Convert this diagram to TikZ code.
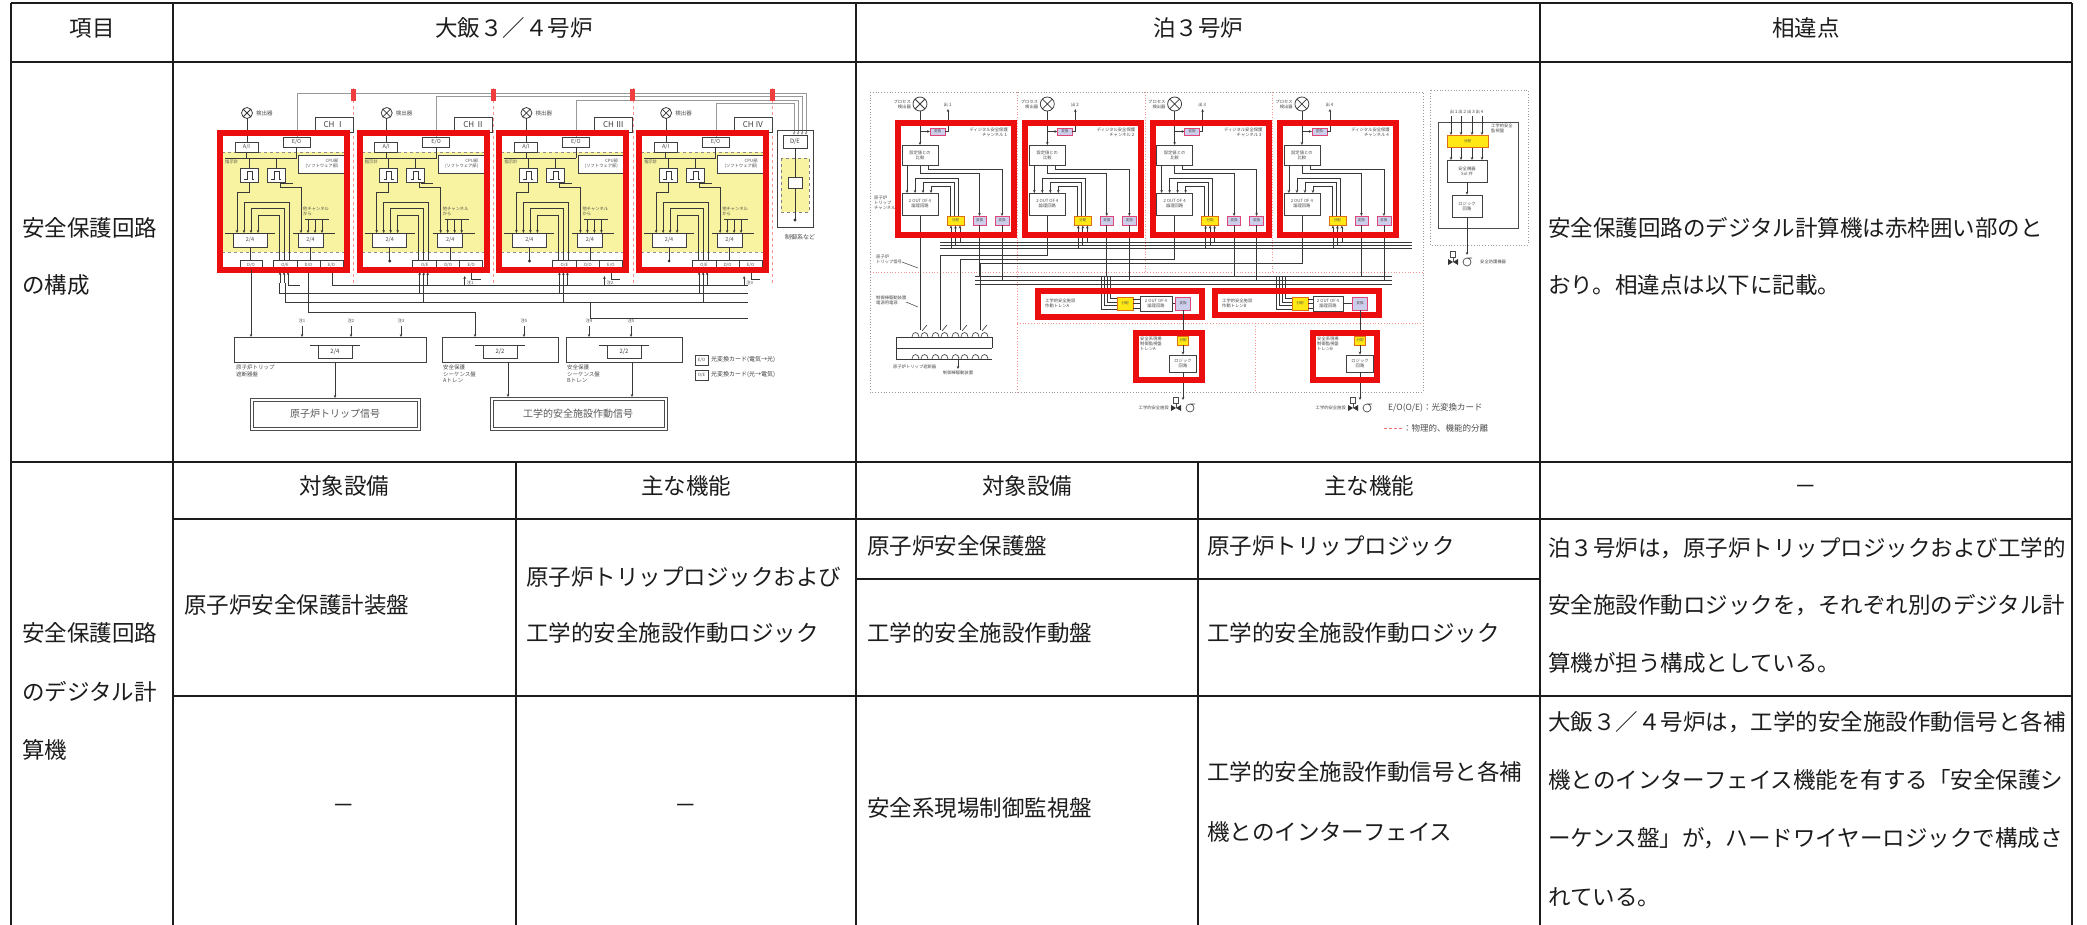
\documentclass[tikz,border=0pt]{standalone}
\usepackage{fontspec}
\setmainfont{Noto Sans CJK JP}
\usetikzlibrary{arrows.meta}
\definecolor{redc}{RGB}{236,14,14}
\definecolor{ohiy}{RGB}{247,243,160}
\definecolor{tyel}{RGB}{255,232,20}
\definecolor{tyelb}{RGB}{225,110,20}
\definecolor{tpink}{RGB}{205,205,236}
\definecolor{tpinkb}{RGB}{222,70,120}
\definecolor{ink}{RGB}{28,28,28}
\newcommand{\vlvpmp}[2]{%
  \fill[black!80] (#1-5,#2-3)--(#1+5,#2+3)--(#1+5,#2-3)--(#1-5,#2+3)--cycle;
  \draw[black!70,line width=0.6pt] (#1,#2)--(#1,#2-5) (#1-2.5,#2-11) rectangle (#1+2.5,#2-5);
  \draw[black!70,line width=0.7pt] (#1+14,#2) circle[radius=4pt] (#1+14,#2-4)--(#1+19,#2-4);}
\begin{document}
\begin{tikzpicture}[x=1pt,y=-1pt,
 tline/.style={draw=ink,line width=1.3pt},
 thk/.style={draw=ink,line width=2.3pt},
 txt/.style={anchor=west,inner sep=0pt,font=\fontsize{22.5}{27}\selectfont,text=ink,text height=0.84em,text depth=0.08em},
 ctr/.style={txt,anchor=center},
 wire/.style={draw=black!78,line width=0.75pt},
 gw/.style={draw=black!40,line width=0.8pt},
 sb/.style={draw=black!75,line width=0.7pt,fill=white,inner sep=0.3pt},
 t4/.style={font=\fontsize{4.3}{4.9}\selectfont,inner sep=0pt,text=black!70},
 t5/.style={font=\fontsize{5.5}{6.3}\selectfont,inner sep=0pt,text=black!70},
 t6/.style={font=\fontsize{6}{6.5}\selectfont,inner sep=0pt,text=black!75},
 t8/.style={font=\fontsize{8}{9}\selectfont,inner sep=0pt,text=black!75},
 arr/.style={-{Stealth[length=3pt,width=2.6pt]}},
 rf/.style={draw=redc,line width=6pt},
 pbox/.style={draw=tpinkb,line width=0.8pt,fill=tpink,inner sep=0pt,font=\fontsize{3.5}{4}\selectfont,text=black!70},
 ybox/.style={draw=tyelb,line width=0.8pt,fill=tyel,inner sep=0pt,font=\fontsize{3.5}{4}\selectfont,text=black!70},
 psep/.style={draw=redc!45,dotted,line width=0.8pt},
 gdot/.style={draw=black!40,dotted,line width=0.8pt},
]
\useasboundingbox (0,0) rectangle (2087,925);
\fill[white] (0,0) rectangle (2087,925);

% ================= TABLE GRID =================
\draw[tline] (11,3)--(2072,3);
\draw[tline] (11,62)--(2072,62);
\draw[tline] (11,462)--(2072,462);
\draw[thk] (173,519)--(2072,519);
\draw[thk] (856,579)--(1540,579);
\draw[thk] (173,696)--(2072,696);
\draw[tline] (11,3)--(11,925);
\draw[tline] (173,3)--(173,925);
\draw[tline] (856,3)--(856,925);
\draw[tline] (1540,3)--(1540,925);
\draw[thk] (2072,3)--(2072,925);
\draw[tline] (516,462)--(516,925);
\draw[tline] (1198,462)--(1198,925);

% ================= TABLE TEXT =================
\node[ctr] (h1) at (92,33) {項目};
\node[ctr] (h2) at (514,33) {大飯３／４号炉};
\node[ctr] (h3) at (1198,33) {泊３号炉};
\node[ctr] (h4) at (1806,33) {相違点};

\node[txt] (a1) at (22,233) {安全保護回路};
\node[txt] (a2) at (22,290) {の構成};
\node[txt] (d1) at (1548,233) {安全保護回路のデジタル計算機は赤枠囲い部のと};
\node[txt] (d2) at (1548,290) {おり。相違点は以下に記載。};

\node[ctr] (s1) at (344,491) {対象設備};
\node[ctr] (s2) at (686,491) {主な機能};
\node[ctr] (s3) at (1027,491) {対象設備};
\node[ctr] (s4) at (1369,491) {主な機能};
\node[ctr] (s5) at (1806,491) {－};

\node[txt] (b1) at (22,638) {安全保護回路};
\node[txt] (b2) at (22,697) {のデジタル計};
\node[txt] (b3) at (22,755) {算機};
\node[txt] (c1) at (184,610) {原子炉安全保護計装盤};
\node[txt] (c2) at (526,582) {原子炉トリップロジックおよび};
\node[txt] (c3) at (526,638) {工学的安全施設作動ロジック};
\node[txt] (c4) at (867,551) {原子炉安全保護盤};
\node[txt] (c5) at (867,638) {工学的安全施設作動盤};
\node[txt] (c6) at (1207,551) {原子炉トリップロジック};
\node[txt] (c7) at (1207,638) {工学的安全施設作動ロジック};
\node[txt] (e1) at (1548,553) {泊３号炉は，原子炉トリップロジックおよび工学的};
\node[txt] (e2) at (1548,610) {安全施設作動ロジックを，それぞれ別のデジタル計};
\node[txt] (e3) at (1548,668) {算機が担う構成としている。};
\node[ctr] (f1) at (344,810) {－};
\node[ctr] (f2) at (686,810) {－};
\node[txt] (f3) at (867,813) {安全系現場制御監視盤};
\node[txt] (f4) at (1207,777) {工学的安全施設作動信号と各補};
\node[txt] (f5) at (1207,837) {機とのインターフェイス};
\node[txt] (g1) at (1548,727) {大飯３／４号炉は，工学的安全施設作動信号と各補};
\node[txt] (g2) at (1548,785) {機とのインターフェイス機能を有する「安全保護シ};
\node[txt] (g3) at (1548,843) {ーケンス盤」が，ハードワイヤーロジックで構成さ};
\node[txt] (g4) at (1548,902) {れている。};

% ================= OHI DIAGRAM =================
% optical links to D/E
\foreach \i in {0,1,2,3}{
  \pgfmathsetmacro\xo{217+139.7*\i}
  \pgfmathsetmacro\ly{93+3.5*\i}
  \pgfmathsetmacro\lx{806-4*\i}
  \draw[gw,arr] (\xo+80,137)--(\xo+80,\ly)--(\lx,\ly)--(\lx,135);
}
% separation marks
\foreach \sx in {353.5,493.2,632.9,772.6}{
  \draw[redc!45,dashed,line width=0.7pt] (\sx,88)--(\sx,285);
  \fill[redc!80] (\sx-2.5,89) rectangle (\sx+2.5,101);
}
% channels
\foreach \i/\rn in {0/Ⅰ,1/Ⅱ,2/Ⅲ,3/Ⅳ}{
  \pgfmathsetmacro\xo{217+139.7*\i}
  \fill[ohiy] (\xo+5,152) rectangle (\xo+128,252);
  \draw[black!45,dashed,line width=0.6pt] (\xo+5,152)--(\xo+128,152) (\xo+5,252)--(\xo+128,252);
  \draw[wire] (\xo+30,113) circle[radius=5.5pt] (\xo+26,109)--(\xo+34,117) (\xo+26,117)--(\xo+34,109);
  \node[t5,anchor=west] (dt\i) at (\xo+39,113) {検出器};
  \node[sb,minimum width=38pt,minimum height=15pt,t8] (ch\i) at (\xo+117,124.5) {CH \rn};
  \draw[wire] (\xo+30,118.5)--(\xo+30,142);
  \node[sb,minimum width=23pt,minimum height=10pt,t5] (ai\i) at (\xo+29.5,147) {A/I};
  \node[sb,minimum width=27pt,minimum height=10pt,t5] (eo\i) at (\xo+79.5,142) {E/O};
  \node[sb,minimum width=47pt,minimum height=18pt,t4,align=right] (cpu\i) at (\xo+105,164) {CPU部\\(ソフトウェア部)};
  \draw[wire] (\xo+8,158)--(\xo+80,158) (ai\i.south)--(\xo+29.5,158) (eo\i.south)--(\xo+79.5,158);
  \node[t4,anchor=west] (ind\i) at (\xo+8,161.5) {指示計};
  \draw[wire] (\xo+32,158)--(\xo+32,168) (\xo+59,158)--(\xo+59,168);
  \node[sb,minimum width=18pt,minimum height=14pt] (bs\i) at (\xo+32,175) {};
  \node[sb,minimum width=18pt,minimum height=14pt] (bt\i) at (\xo+59,175) {};
  \draw[wire,line width=0.6pt] (\xo+27,179)--(\xo+30,179)--(\xo+30,171)--(\xo+35,171)--(\xo+35,179)--(\xo+37,179);
  \draw[wire,line width=0.6pt] (\xo+54,179)--(\xo+57,179)--(\xo+57,171)--(\xo+62,171)--(\xo+62,179)--(\xo+64,179);
  \draw[wire] (\xo+64,183)--(\xo+76,183);
  % wiring
  \draw[wire,arr] (\xo+32,182)--(\xo+32,192)--(\xo+20,192)--(\xo+20,233);
  \draw[wire,arr] (\xo+72,260)--(\xo+72,202)--(\xo+27,202)--(\xo+27,233);
  \draw[wire,arr] (\xo+67,260)--(\xo+67,208)--(\xo+34,208)--(\xo+34,233);
  \draw[wire,arr] (\xo+62,260)--(\xo+62,215)--(\xo+41,215)--(\xo+41,233);
  \draw[wire,arr] (\xo+63,182)--(\xo+63,187)--(\xo+84,187)--(\xo+84,233);
  \draw[wire,arr] (\xo+91,219)--(\xo+91,233);
  \draw[wire,arr] (\xo+98,219)--(\xo+98,233);
  \draw[wire,arr] (\xo+105,219)--(\xo+105,233);
  \draw[wire] (\xo+88,219)--(\xo+112,219);
  \node[t4,anchor=south west,align=left] (oc\i) at (\xo+86,216) {他チャンネル\\から};
  \node[sb,minimum width=34pt,minimum height=14pt,t5] (ta\i) at (\xo+33,240) {2/4};
  \node[sb,minimum width=25pt,minimum height=14pt,t5] (tb\i) at (\xo+93.5,240) {2/4};
  \draw[wire] (\xo+8,233)--(\xo+58,233) (\xo+76,233)--(\xo+118,233);
  \draw[wire] (ta\i.south)--(\xo+33,260) (tb\i.south)--(\xo+93.5,260);
  \node[sb,minimum width=24pt,minimum height=10pt,t4] (oe\i) at (\xo+68,265) {O/E};
  \node[sb,minimum width=23pt,minimum height=10pt,t4] (do\i) at (\xo+91.5,265) {D/O};
  \node[sb,minimum width=23pt,minimum height=10pt,t4] (ef\i) at (\xo+114.5,265) {E/O};
  \draw[wire,arr] (\xo+63,283)--(\xo+63,272);
  \draw[wire,arr] (\xo+67,283)--(\xo+67,272);
  \draw[wire,arr] (\xo+71,283)--(\xo+71,272);
}
\node[sb,minimum width=22pt,minimum height=10pt,t4] (do0a) at (251,265) {D/O};
\foreach \i in {1,2,3}{
  \pgfmathsetmacro\xo{217+139.7*\i}
  \fill[black!80] (\xo+33,261) circle[radius=1.6pt];
  \draw[wire,arr] (\xo+108,286)--(\xo+108,276);
  \node[t4,anchor=west] (nt\i) at (\xo+110,283) {注\i};
  \draw[wire] (\xo+63,283)--(\xo+63,293) (\xo+67,283)--(\xo+67,302) (\xo+71,283)--(\xo+71,285);
  \draw[wire] (\xo+115,270)--(\xo+115,279)--(\xo+124,279);
}
% red frames on top
\foreach \i in {0,1,2,3}{
  \pgfmathsetmacro\xo{217+139.7*\i}
  \draw[rf] (\xo+3,133) rectangle (\xo+130,270);
}
% buses below
\draw[wire] (332,273)--(332,285)--(748,285);
\draw[wire] (279,283)--(279,293)--(748,293);
\draw[wire] (285,283)--(285,302)--(748,302);
\draw[wire] (288,283)--(288,285)--(300,285);
\draw[wire,arr] (308,273)--(308,312)--(475,312)--(475,337);
\draw[wire,arr] (251,270)--(251,337);
\draw[wire] (590,302)--(590,318)--(748,318);
% logic boxes
\draw[draw=black!75,line width=0.8pt] (234,337) rectangle (426,362);
\draw[draw=black!75,line width=0.8pt] (442,337) rectangle (558,362);
\draw[draw=black!75,line width=0.8pt] (566,337) rectangle (682,362);
\draw[wire] (310,345)--(360,345) (475,345)--(525,345) (599,345)--(649,345);
\node[sb,minimum width=34pt,minimum height=13pt,t6,anchor=north] (l1) at (335,345) {2/4};
\node[sb,minimum width=34pt,minimum height=13pt,t6,anchor=north] (l2) at (500,345) {2/2};
\node[sb,minimum width=34pt,minimum height=13pt,t6,anchor=north] (l3) at (624,345) {2/2};
\foreach \ax/\al in {302/注1,351/注2,401/注3,524/注5,589/注4,631/注5}{
  \draw[wire,arr] (\ax,326)--(\ax,337);
  \node[t4,anchor=south] at (\ax,323) {\al};
}
\node[t5,anchor=north west,align=left] (lb1) at (236,365) {原子炉トリップ\\遮断器盤};
\node[t5,anchor=north west,align=left] (lb2) at (443,365) {安全保護\\シーケンス盤\\Aトレン};
\node[t5,anchor=north west,align=left] (lb3) at (567,365) {安全保護\\シーケンス盤\\Bトレン};
\draw[draw=black!70,line width=0.9pt] (250,398) rectangle (420,430);
\draw[draw=black!70,line width=0.7pt] (253,401) rectangle (417,427);
\node[font=\fontsize{10}{11}\selectfont,text=black!65,inner sep=0pt] (sig1) at (335,414) {原子炉トリップ信号};
\draw[draw=black!70,line width=0.9pt] (490,397) rectangle (667,430);
\draw[draw=black!70,line width=0.7pt] (493,400) rectangle (664,427);
\node[font=\fontsize{10}{11}\selectfont,text=black!65,inner sep=0pt] (sig2) at (578,413.5) {工学的安全施設作動信号};
\draw[wire,arr] (335,362)--(335,398);
\draw[wire,arr] (508,362)--(508,397);
\draw[wire,arr] (632,362)--(632,397);
% D/E side
\draw[draw=black!75,line width=0.8pt] (777,130) rectangle (813,227);
\node[sb,minimum width=24pt,minimum height=13pt,t6] (de) at (795,141.5) {D/E};
\draw[draw=black!50,dashed,line width=0.8pt,fill=ohiy] (781,158) rectangle (809,212);
\node[sb,minimum width=14pt,minimum height=11pt] (dec) at (795,182.5) {};
\draw[wire] (de.south)--(dec.north);
\draw[wire] (dec.south)--(795,220);
\fill[black!80] (795,220) circle[radius=1.6pt];
\node[t6] (ctl) at (800,237) {制御系など};
% legend
\node[sb,minimum width=13pt,minimum height=10pt,t4,line width=1pt] (lge) at (701.5,360) {E/O};
\node[t6,anchor=west] (lget) at (711,360) {光変換カード(電気→光)};
\node[sb,minimum width=13pt,minimum height=10pt,t4,line width=1pt] (lgo) at (701.5,375) {O/E};
\node[t6,anchor=west] (lgot) at (711,375) {光変換カード(光→電気)};

% ================= TOMARI DIAGRAM =================
\draw[gdot] (870,92) rectangle (1423,392);
\draw[psep] (1017,92)--(1017,392) (1145,92)--(1145,272) (1272,92)--(1272,272)
  (870,272)--(1423,272) (1017,323)--(1423,323) (1255,323)--(1255,392);
\draw[gdot] (1430,90) rectangle (1528,245);
% buses under channels
\draw[wire] (940,242)--(1412,242) (940,245)--(1412,245) (940,248)--(1412,248);
\draw[wire] (975,276)--(1392,276) (975,280)--(1392,280) (975,284)--(1392,284);
\draw[wire] (920,215)--(920,330);
\draw[wire] (1047.3,215)--(1047.3,255)--(940,255)--(940,330);
\draw[wire] (1174.6,215)--(1174.6,259)--(960,259)--(960,330);
\draw[wire] (1301.9,215)--(1301.9,263)--(980,263)--(980,330);
\foreach \i/\chn in {0/１,1/２,2/３,3/４}{
  \pgfmathsetmacro\xo{895+127.3*\i}
  \draw[wire] (\xo+25,104) circle[radius=7pt] (\xo+20,99)--(\xo+30,109) (\xo+20,109)--(\xo+30,99);
  \node[t4,anchor=east,align=right] (pd\i) at (\xo+16,104) {プロセス\\検出器};
  \draw[wire,arr] (\xo+25,111)--(\xo+25,145);
  \draw[wire,arr] (\xo+25,131.5)--(\xo+35,131.5);
  \node[pbox,minimum width=15pt,minimum height=7pt] (cv\i) at (\xo+42.5,131.5) {変換};
  \draw[wire,arr] (\xo+50,131.5)--(\xo+53,131.5)--(\xo+53,109);
  \node[t4,anchor=south] (o\i) at (\xo+53,107) {出\chn};
  \node[t4,anchor=north east,align=right] (cl\i) at (\xo+113,128) {ディジタル安全保護\\チャンネル\chn};
  \node[sb,minimum width=36pt,minimum height=20pt,t4,align=center] (cmp\i) at (\xo+25,155) {設定値との\\比較};
  \node[sb,minimum width=36pt,minimum height=22pt,t4,align=center] (lg\i) at (\xo+25,204) {2 OUT OF 4\\論理回路};
  \draw[wire,arr] (\xo+12,165)--(\xo+12,193);
  \draw[wire,arr] (\xo+25,165)--(\xo+25,173)--(\xo+84.5,173)--(\xo+84.5,216);
  \draw[wire,arr] (\xo+33,165)--(\xo+33,169)--(\xo+107,169)--(\xo+107,216);
  \draw[wire,arr] (\xo+55,216)--(\xo+55,186)--(\xo+36,186)--(\xo+36,193);
  \draw[wire,arr] (\xo+59,216)--(\xo+59,182)--(\xo+28,182)--(\xo+28,193);
  \draw[wire,arr] (\xo+63,216)--(\xo+63,178)--(\xo+20,178)--(\xo+20,193);
  \node[ybox,minimum width=17pt,minimum height=9pt] (yl\i) at (\xo+60.5,220.5) {分配};
  \node[pbox,minimum width=13pt,minimum height=9pt] (pa\i) at (\xo+84.5,220.5) {変換};
  \node[pbox,minimum width=14pt,minimum height=9pt] (pb\i) at (\xo+107,220.5) {変換};
  \draw[wire,arr] (\xo+56,248)--(\xo+56,225.5);
  \draw[wire,arr] (\xo+60.5,245)--(\xo+60.5,225.5);
  \draw[wire,arr] (\xo+65,242)--(\xo+65,225.5);
  \draw[wire] (pa\i.south)--(\xo+84.5,276) (pb\i.south)--(\xo+107,280);
  \draw[rf] (\xo+3,123) rectangle (\xo+119,235);
}
% breakers
\draw[wire] (896,337)--(992,337) (896,348)--(992,348) (896,337)--(896,359) (992,337)--(992,348) (896,359)--(992,359);
\foreach \px in {920,940,960,980}{
  \draw[wire,line width=0.6pt,fill=white] (\px-8,337) .. controls (\px-8,331) and (\px-1,331) .. (\px-1,337);
  \draw[wire,line width=0.6pt,fill=white] (\px+1,337) .. controls (\px+1,331) and (\px+8,331) .. (\px+8,337);
  \draw[wire,line width=0.6pt] (\px+2,331)--(\px+7,325);
  \draw[wire,line width=0.6pt,fill=white] (\px-8,359) .. controls (\px-8,353) and (\px-1,353) .. (\px-1,359);
  \draw[wire,line width=0.6pt,fill=white] (\px+1,359) .. controls (\px+1,353) and (\px+8,353) .. (\px+8,359);
}
\draw[wire,arr] (958,359)--(958,369);
\node[t4,anchor=west,align=left] (rtc) at (874,203) {原子炉\\トリップ\\チャンネル};
\node[t4,anchor=west,align=left] (rts) at (876,259) {原子炉\\トリップ信号};
\draw[wire,line width=0.5pt] (902,262)--(918,268);
\node[t4,anchor=west,align=left] (cps) at (876,300) {制御棒駆動装置\\電源用電源};
\draw[wire,line width=0.5pt] (906,302)--(918,307);
\node[t4,anchor=west] (rtb) at (893,367) {原子炉トリップ遮断器};
\node[t4,anchor=north] (crd) at (958,371) {制御棒駆動装置};
% ESF trains
\foreach \k/\yy in {0/309,1/305.5,2/302,3/298.5}{
  \pgfmathsetmacro\ax{1101+3*\k}
  \pgfmathsetmacro\bx{1276+3*\k}
  \draw[wire] (\ax,276)--(\ax,\yy)--(1117,\yy);
  \draw[wire] (\bx,276)--(\bx,\yy)--(1292,\yy);
}
\node[t4,anchor=west,align=left] (ta) at (1045,303.5) {工学的安全施設\\作動トレンA};
\node[ybox,minimum width=16pt,minimum height=13pt] (tay) at (1125,303.5) {分配};
\node[sb,minimum width=32pt,minimum height=15pt,t4,align=center] (tal) at (1156,303.5) {2 OUT OF 4\\論理回路};
\node[pbox,minimum width=15pt,minimum height=13pt] (tap) at (1183,303.5) {変換};
\draw[wire] (1133,299)--(1140,299) (1133,303.5)--(1140,303.5) (1133,308)--(1140,308);
\draw[wire] (tal.east)--(tap.west);
\node[t4,anchor=west,align=left] (tb) at (1222,303.5) {工学的安全施設\\作動トレンB};
\node[ybox,minimum width=16pt,minimum height=13pt] (tby) at (1300,303.5) {分配};
\node[sb,minimum width=30pt,minimum height=15pt,t4,align=center] (tbl) at (1328,303.5) {2 OUT OF 4\\論理回路};
\node[pbox,minimum width=15pt,minimum height=13pt] (tbp) at (1360,303.5) {変換};
\draw[wire] (1308,299)--(1313,299) (1308,303.5)--(1313,303.5) (1308,308)--(1313,308);
\draw[wire] (tbl.east)--(tbp.west);
\draw[rf] (1038,291) rectangle (1202,317);
\draw[rf] (1215,291) rectangle (1379,315);
% local control panels
\node[t4,anchor=north west,align=left] (lca) at (1140,337) {安全系現場\\制御監視盤\\トレンA};
\node[ybox,minimum width=11pt,minimum height=9pt] (lay) at (1183,340.5) {分配};
\node[sb,minimum width=27pt,minimum height=17pt,t4,align=center] (lal) at (1183,363.5) {ロジック\\回路};
\draw[wire,arr] (tap.south)--(lay.north);
\draw[wire,arr] (lay.south)--(lal.north);
\draw[wire,arr] (lal.south)--(1183,400);
\node[t4,anchor=north west,align=left] (lcb) at (1317,337) {安全系現場\\制御監視盤\\トレンB};
\node[ybox,minimum width=11pt,minimum height=9pt] (lby) at (1360,340.5) {分配};
\node[sb,minimum width=27pt,minimum height=17pt,t4,align=center] (lbl) at (1360,363.5) {ロジック\\回路};
\draw[wire,arr] (tbp.south)--(lby.north);
\draw[wire,arr] (lby.south)--(lbl.north);
\draw[wire,arr] (lbl.south)--(1360,400);
\draw[rf] (1136,333) rectangle (1202,380);
\draw[rf] (1313,333) rectangle (1377,380);
\vlvpmp{1176}{408}
\vlvpmp{1353}{408}
\node[t4,anchor=east] (esa) at (1169,408) {工学的安全施設};
\node[t4,anchor=east] (esb) at (1346,408) {工学的安全施設};
% right monitor panel
\draw[draw=black!70,line width=0.7pt] (1438,122) rectangle (1518,228);
\node[t4,anchor=south] (mon) at (1467,114) {出１出２出３出４};
\foreach \mx in {1451,1461,1472,1482}{
  \draw[wire,arr] (\mx,116)--(\mx,135);
  \draw[wire,arr] (\mx,147)--(\mx,160);
}
\node[ybox,minimum width=41pt,minimum height=12pt] (my) at (1467.5,141) {分配};
\node[t4,anchor=west,align=left] (mlb) at (1491,128) {工学的安全\\監視盤};
\node[sb,minimum width=40pt,minimum height=22pt,t4,align=center] (mb1) at (1467,171) {安全機器\\Sol 弁};
\node[sb,minimum width=30pt,minimum height=22pt,t4,align=center] (mb2) at (1467,206) {ロジック\\回路};
\draw[wire,arr] (mb1.south)--(mb2.north);
\draw[wire,arr] (mb2.south)--(1467,255);
\vlvpmp{1453}{262}
\node[t4,anchor=west] (mout) at (1480,262) {安全防護機器};
% legend
\node[anchor=west,inner sep=0pt,font=\fontsize{8.5}{9}\selectfont,text=black!70] (lg1) at (1388,408) {E/O(O/E)：光変換カード};
\draw[redc!60,densely dashed,line width=0.7pt] (1384,428)--(1402,428);
\node[anchor=west,inner sep=0pt,font=\fontsize{8.5}{9}\selectfont,text=black!70] (lg2) at (1403,428) {：物理的、機能的分離};
\end{tikzpicture}
\end{document}
